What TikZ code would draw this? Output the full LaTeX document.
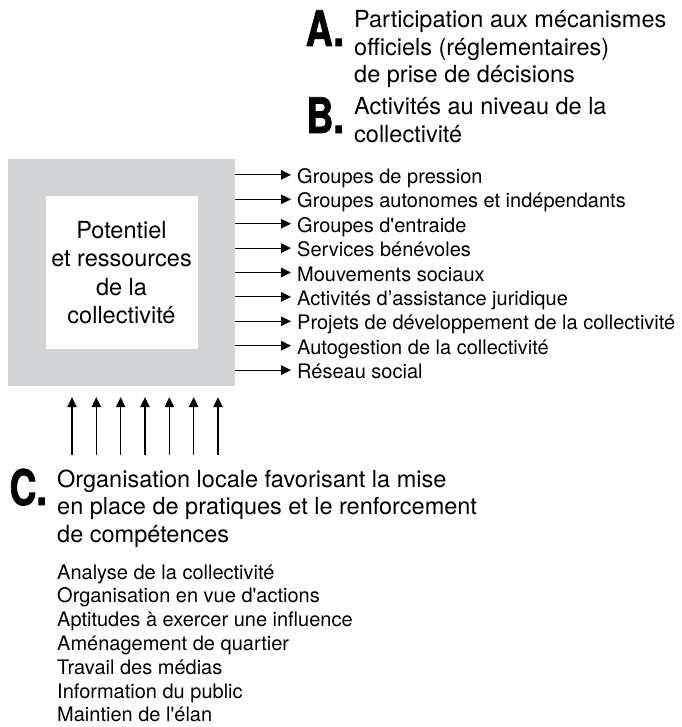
\documentclass[tikz,border=0pt]{standalone}
\usepackage{fontspec}
\setmainfont{TeX Gyre Heros}[Ligatures=TeXOff]
\newfontfamily\capfont[FakeStretch=0.76, BoldFeatures={FakeBold=1.5}]{TeX Gyre Heros}
\usetikzlibrary{arrows.meta}
\definecolor{boxgray}{RGB}{209,211,212}

\tikzset{
  bigtext/.style={font=\fontsize{23.5}{27.5}\selectfont, align=left, anchor=base west},
  item/.style={font=\fontsize{20}{24}\selectfont, anchor=base west},
  letter/.style={font=\capfont\bfseries\fontsize{49}{49}\selectfont, anchor=base east}
}

\begin{document}
\begin{tikzpicture}[x=1pt,y=-1pt]
\useasboundingbox (0,0) rectangle (681,727);

\begin{scope}[every node/.style={inner sep=0pt}]
\node [fill=boxgray, minimum size=227pt] (res) at (121.5,272.5) {};
\node [fill=white, minimum size=152pt, align=center, font=\fontsize{23.5}{28.5}\selectfont] (pot) at (121.5,272.5) {Potentiel\\et ressources\\de la\\collectivité};

\node [bigtext] (tA) at (354,83) {Participation aux mécanismes\\officiels (réglementaires)\\de prise de décisions};
\node [letter] (lA) at ([shift={(-10,-37)}]tA.base west) {A.};
\node [bigtext] (tB) at (354,142.5) {Activités au niveau de la\\collectivité};
\node [letter] (lB) at ([shift={(-10,-9.5)}]tB.base west) {B.};
\node [bigtext] (tC) at (57,542) {Organisation locale favorisant la mise\\en place de pratiques et le renforcement\\de compétences};
\node [letter] (lC) at ([shift={(-10,-37)}]tC.base west) {C.};

\foreach \lbl [count=\i from 0] in {Groupes de pression, Groupes autonomes et indépendants, Groupes d'entraide, Services bénévoles, Mouvements sociaux, Activités d’assistance juridique, Projets de développement de la collectivité, Autogestion de la collectivité, Réseau social}
  \node [item] (r\i) at (297,{281+24.4*(\i-4)}) {\lbl};

\foreach \lbl [count=\i from 0] in {Analyse de la collectivité, Organisation en vue d'actions, Aptitudes à exercer une influence, Aménagement de quartier, Travail des médias, Information du public, Maintien de l'élan}
  \node [item] (d\i) at (57,{579+23.8*\i}) {\lbl};
\end{scope}

\begin{scope}[>={Triangle[length=10pt,width=9.5pt]}, line width=1.1pt]
\foreach \i in {0,...,8} {
  \coordinate (t\i) at (291,{272.5+24.4*(\i-4)});
  \draw [->] (res.east |- t\i) -- (t\i);
}
\foreach \i in {0,...,6} {
  \coordinate (c\i) at ({72+24.33*\i},455);
  \draw [->, shorten >=11pt] (c\i) -- (c\i |- res.south);
}
\end{scope}
\end{tikzpicture}
\end{document}
